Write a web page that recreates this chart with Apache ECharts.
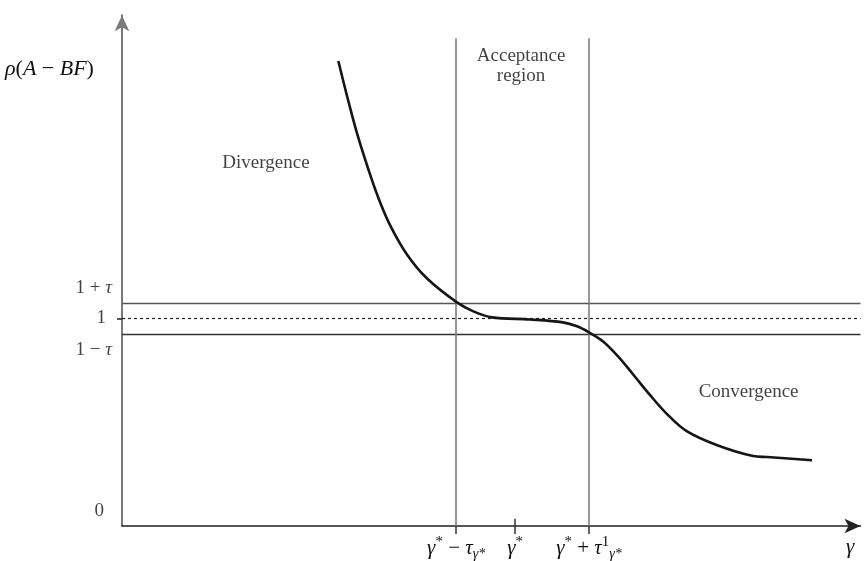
<!DOCTYPE html>
<html><head><meta charset="utf-8">
<script src="https://cdn.jsdelivr.net/npm/echarts@6/dist/echarts.min.js"></script>
<style>html,body{margin:0;padding:0;background:#fff}#c{width:868px;height:561px}</style>
</head><body><div id="c"></div>
<script>
// ---- data ----
const tau = 0.075;
const gammaLow = 44.8;     // γ* − τ_γ*
const gammaStar = 52.7;    // γ*
const gammaHigh = 62.6;    // γ* + τ¹_γ*
const curveX = [29.0, 30.3, 31.6, 33.0, 34.3, 35.9, 38.2, 40.9, 44.9, 47.1, 49.6, 54.7, 59.1, 61.0, 62.6, 64.5, 66.5, 68.5, 70.8, 73.1, 75.7, 79.8, 84.6, 86.5, 92.5];
const curveY = [2.24, 2.053, 1.88, 1.721, 1.587, 1.452, 1.308, 1.192, 1.077, 1.034, 1.005, 0.995, 0.981, 0.962, 0.933, 0.889, 0.817, 0.731, 0.630, 0.538, 0.457, 0.389, 0.337, 0.332, 0.317];
const yTickValues = [0, 1 - tau, 1, 1 + tau];
const yTickLabels = ['0', '1 − τ', '1', '1 + τ'];
const xTickValues = [gammaLow, gammaStar, gammaHigh];
const xTickLabels = ['low', 'star', 'high'];
const regionTop = 2.35;
const annotations = [
  {name: 'Divergence', x: 19.3, y: 1.75},
  {name: 'Convergence', x: 84.0, y: 0.644},
  {name: 'Acceptance\nregion', x: 53.5, y: 2.215}
];

const serif = '"Liberation Serif", "DejaVu Serif", serif';
const ink = '#111';
const chart = echarts.init(document.getElementById('c'), null, {renderer: 'canvas'});
const curve = curveX.map((x, i) => [x, curveY[i]]);

const xRich = {
  i: {fontFamily: serif, fontStyle: 'italic', fontSize: 21, color: ink, lineHeight: 26, verticalAlign: 'middle'},
  n: {fontFamily: serif, fontSize: 21, color: ink, lineHeight: 26, verticalAlign: 'middle'},
  sup: {fontFamily: serif, fontSize: 15, color: ink, lineHeight: 26, verticalAlign: 'top'},
  sub: {fontFamily: serif, fontStyle: 'italic', fontSize: 14, color: ink, lineHeight: 26, verticalAlign: 'bottom'}
};
const xLabelRich = {
  low: '{i|γ}{sup|*}{n| − }{i|τ}{sub|γ*}',
  star: '{i|γ}{sup|*}',
  high: '{i|γ}{sup|*}{n| + }{i|τ}{sup|1}{sub|γ*}'
};

function nearestIdx(arr, v) {
  let b = 0;
  arr.forEach((a, i) => { if (Math.abs(a - v) < Math.abs(arr[b] - v)) b = i; });
  return b;
}
// per-label offsets of the y tick labels (style only)
const yLabelOffsets = [[-18, -15], [-10, 16], [-16, 0], [-10, -15]];
function yRichText(s) {
  return s.split('τ').map(p => p ? '{n|' + p + '}' : '').join('{i|τ}');
}

const option = {
  animation: false,
  backgroundColor: '#fff',
  grid: {left: 122, right: 7.5, top: 15.3, bottom: 34, containLabel: false},
  xAxis: {
    type: 'value', min: 0, max: 99,
    splitLine: {show: false},
    axisLine: {onZero: false, lineStyle: {color: '#222', width: 1.5}, symbol: ['none', 'arrow'], symbolSize: [11, 16]},
    axisTick: {show: true, customValues: xTickValues, length: 8, lineStyle: {color: '#333', width: 1.5}},
    axisLabel: {
      show: true, customValues: xTickValues, margin: 9,
      formatter: v => xLabelRich[xTickLabels[nearestIdx(xTickValues, v)]],
      rich: xRich
    }
  },
  yAxis: {
    type: 'value', min: 0, max: 2.46,
    splitLine: {show: false},
    axisLine: {onZero: false, lineStyle: {color: '#7a7a7a', width: 2}, symbol: ['none', 'arrow'], symbolSize: [11, 16]},
    axisTick: {show: true, customValues: [1], length: 5, lineStyle: {color: '#222', width: 1.5}},
    axisLabel: {show: false}
  },
  graphic: [
    {type: 'text', left: 5, top: 58, style: {
      text: '{i|ρ}{n|(}{i|A}{n| − }{i|BF}{n|)}',
      rich: {
        i: {fontFamily: serif, fontStyle: 'italic', fontSize: 22, fill: ink},
        n: {fontFamily: serif, fontSize: 22, fill: ink}
      }
    }},
    {type: 'text', left: 846, top: 537, style: {text: 'γ', font: 'italic 21px ' + serif, fill: ink}}
  ],
  series: [
    {
      type: 'line', name: 'rho', data: curve, smooth: 0.35, showSymbol: false, clip: false,
      lineStyle: {color: '#151515', width: 2.6},
      z: 5,
      markLine: {
        silent: true, symbol: 'none', label: {show: false},
        data: [
          [{coord: [0, 1 + tau], lineStyle: {color: '#555', width: 1.4, type: 'solid'}}, {coord: [99, 1 + tau]}],
          [{coord: [0, 1 - tau], lineStyle: {color: '#333', width: 1.4, type: 'solid'}}, {coord: [99, 1 - tau]}],
          [{coord: [0, 1], lineStyle: {color: '#222', width: 1.2, type: [3, 3]}}, {coord: [99, 1]}],
          [{coord: [gammaLow, 0], lineStyle: {color: '#777', width: 1.5, type: 'solid'}}, {coord: [gammaLow, regionTop]}],
          [{coord: [gammaHigh, 0], lineStyle: {color: '#777', width: 1.5, type: 'solid'}}, {coord: [gammaHigh, regionTop]}],
          [{coord: [gammaStar, 0], lineStyle: {color: '#333', width: 1.5, type: 'solid'}}, {coord: [gammaStar, 0.035]}]
        ]
      }
    },
    {
      type: 'scatter', name: 'annotations', symbolSize: 0, silent: true, clip: false,
      data: annotations.map(a => ({value: [a.x, a.y], name: a.name})),
      label: {
        show: true, position: 'inside', formatter: p => p.name,
        fontFamily: serif, fontSize: 19, color: ink, lineHeight: 20, align: 'center'
      }
    },
    {
      type: 'scatter', name: 'yTickLabels', symbolSize: 0, silent: true, clip: false,
      data: yTickValues.map((v, k) => ({
        value: [0, v], name: yTickLabels[k],
        label: {offset: yLabelOffsets[k]}
      })),
      label: {
        show: true, position: 'inside', align: 'right', verticalAlign: 'middle',
        formatter: p => yRichText(p.name),
        rich: {
          n: {fontFamily: serif, fontSize: 19, color: ink},
          i: {fontFamily: serif, fontStyle: 'italic', fontSize: 19, color: ink}
        }
      }
    }
  ]
};
chart.setOption(option);
</script></body></html>
